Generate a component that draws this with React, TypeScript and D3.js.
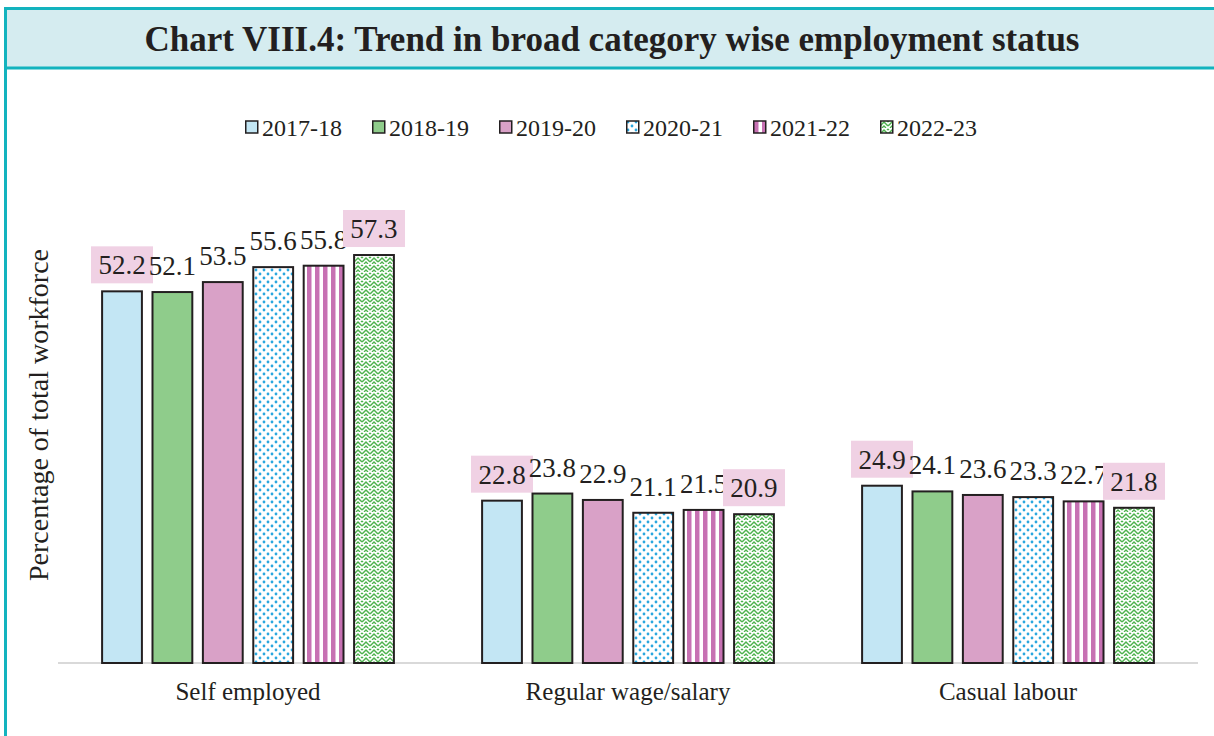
import React from "react";
import * as d3 from "d3";

// chart data
const categories = ["Self employed", "Regular wage/salary", "Casual labour"];
const years = ["2017-18", "2018-19", "2019-20", "2020-21", "2021-22", "2022-23"];
const values: Record<string, number[]> = {
  "2017-18": [52.2, 22.8, 24.9],
  "2018-19": [52.1, 23.8, 24.1],
  "2019-20": [53.5, 22.9, 23.6],
  "2020-21": [55.6, 21.1, 23.3],
  "2021-22": [55.8, 21.5, 22.7],
  "2022-23": [57.3, 20.9, 21.8],
};
// first and last year get a pink label box
const highlighted = ["2017-18", "2022-23"];

const fills: Record<string, string> = {
  "2017-18": "#c3e6f4",
  "2018-19": "#8fcc8b",
  "2019-20": "#d9a1c7",
  "2020-21": "url(#dots)",
  "2021-22": "url(#stripes)",
  "2022-23": "url(#zigzag)",
};

const W = 1214;
const H = 736;
const teal = "#13b3be";
const ink = "#231f20";
const serif = "'Liberation Serif', 'Times New Roman', serif";

export default function App() {
  const x0 = d3.scaleBand().domain(categories).range([58, 1198]);
  const x1 = d3
    .scaleBand()
    .domain(years)
    .range([0, x0.bandwidth()])
    .paddingInner(0.21)
    .paddingOuter(0.875);
  const y = d3.scaleLinear().domain([0, 70]).range([663, 164.6]);

  const legendX = d3.scaleLinear().domain([0, years.length - 1]).range([245, 880]);

  return (
    <div style={{ position: "absolute", left: 0, top: 0 }}>
      <svg width={W} height={H} style={{ display: "block", background: "#fff" }}>
        <defs>
          <pattern id="dots" width={8} height={8} patternUnits="userSpaceOnUse">
            <rect width={8} height={8} fill="#fff" />
            <circle cx={2} cy={2} r={1.4} fill="#2aa7df" />
            <circle cx={6} cy={6} r={1.4} fill="#2aa7df" />
          </pattern>
          <pattern id="stripes" width={8} height={8} patternUnits="userSpaceOnUse">
            <rect width={8} height={8} fill="#fff" />
            <rect x={1} width={4.5} height={8} fill="#c771b3" />
          </pattern>
          <pattern id="zigzag" width={8} height={8} patternUnits="userSpaceOnUse">
            <rect width={8} height={8} fill="#fff" />
            <path d="M0 6 L4 2 L8 6" fill="none" stroke="#4db24d" strokeWidth={1.5} />
            <path d="M0 2 L1 1 M7 1 L8 2 M2 8 L4 6 L6 8" fill="none" stroke="#4db24d" strokeWidth={1.3} />
          </pattern>
        </defs>

        {/* header band and frame */}
        <rect x={5} y={8} width={W - 5} height={60} fill="#d5ecf0" />
        <line x1={4} x2={W} y1={8.5} y2={8.5} stroke={teal} strokeWidth={3} />
        <line x1={4} x2={W} y1={68} y2={68} stroke={teal} strokeWidth={3} />
        <line x1={5.5} x2={5.5} y1={7} y2={H} stroke={teal} strokeWidth={3} />
        <text
          x={612}
          y={51}
          textAnchor="middle"
          fontFamily={serif}
          fontWeight="bold"
          fontSize={35}
          fill={ink}
        >
          Chart VIII.4: Trend in broad category wise employment status
        </text>

        {/* legend */}
        {years.map((yr, i) => (
          <g key={yr} transform={`translate(${legendX(i)},0)`}>
            <rect x={0.75} y={121} width={12} height={12} fill={fills[yr]} stroke={ink} strokeWidth={1.5} />
            <text x={17} y={136} fontFamily={serif} fontSize={24} fill={ink}>
              {yr}
            </text>
          </g>
        ))}

        {/* y axis title */}
        <text
          transform="translate(48,415) rotate(-90)"
          textAnchor="middle"
          fontFamily={serif}
          fontSize={28}
          fill={ink}
        >
          Percentage of total workforce
        </text>

        {/* baseline */}
        <line x1={58} x2={1198} y1={663} y2={663} stroke="#d9d9d9" strokeWidth={2} />

        {categories.map((cat, ci) => (
          <g key={cat} transform={`translate(${x0(cat)},0)`}>
            {years.map((yr) => {
              const v = values[yr][ci];
              const bx = x1(yr)!;
              const bw = x1.bandwidth();
              const top = y(v);
              const cx = bx + bw / 2;
              return (
                <g key={yr}>
                  <rect
                    x={bx}
                    y={top}
                    width={bw}
                    height={y(0) - top}
                    fill={fills[yr]}
                    stroke={ink}
                    strokeWidth={2}
                  />
                  {highlighted.includes(yr) && (
                    <rect x={cx - 31} y={top - 45} width={62} height={37} fill="#f0d1e4" />
                  )}
                  <text
                    x={cx}
                    y={top - 17}
                    textAnchor="middle"
                    fontFamily={serif}
                    fontSize={27}
                    fill={ink}
                  >
                    {v.toFixed(1)}
                  </text>
                </g>
              );
            })}
            <text
              x={x0.bandwidth() / 2}
              y={700}
              textAnchor="middle"
              fontFamily={serif}
              fontSize={25}
              fill={ink}
            >
              {cat}
            </text>
          </g>
        ))}
      </svg>
    </div>
  );
}
